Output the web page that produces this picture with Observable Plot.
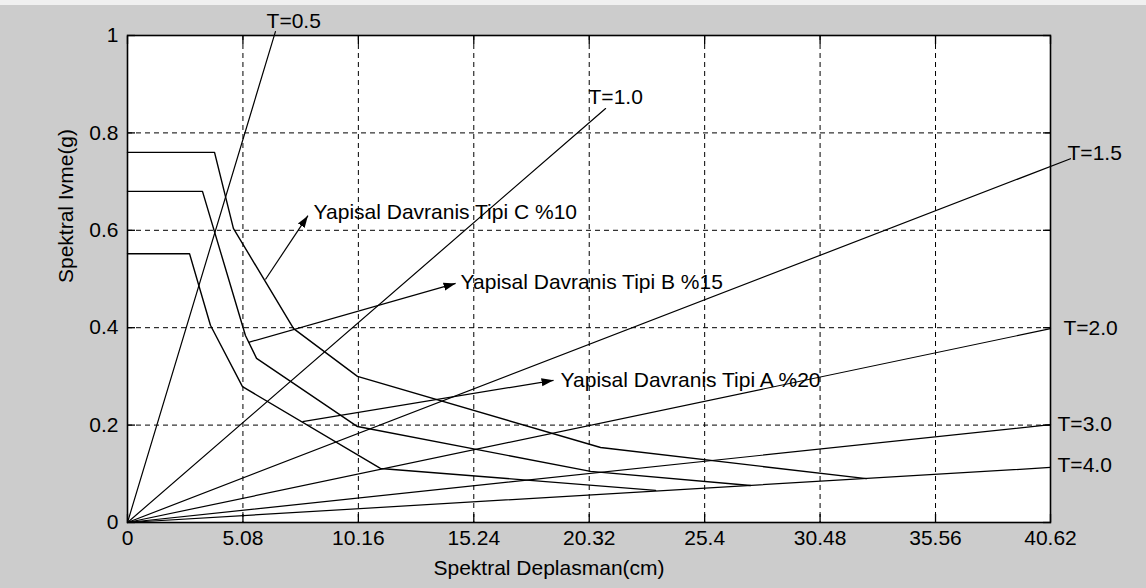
<!DOCTYPE html>
<html>
<head>
<meta charset="utf-8">
<script src="https://cdn.jsdelivr.net/npm/d3@7"></script>
<script src="https://cdn.jsdelivr.net/npm/@observablehq/plot@0.6"></script>
<style>
  html, body { margin: 0; padding: 0; background: #cccccc; width: 1146px; height: 588px; overflow: hidden; }
  #strip { height: 5px; background: #f0f0f0; }
  #chart svg { display: block; overflow: visible; }
</style>
</head>
<body>
<div id="strip"></div>
<div id="chart"></div>
<script>
// ---- Axis ticks ----
const xTickValues = [0, 5.08, 10.16, 15.24, 20.32, 25.4, 30.48, 35.56, 40.62];
const xTickLabels = ["0", "5.08", "10.16", "15.24", "20.32", "25.4", "30.48", "35.56", "40.62"];
const yTickValues = [0, 0.2, 0.4, 0.6, 0.8, 1];
const yTickLabels = ["0", "0.2", "0.4", "0.6", "0.8", "1"];
const xTitle = "Spektral Deplasman(cm)";
const yTitle = "Spektral Ivme(g)";

// ---- Period (T) radial lines: from origin to end point ----
const periods = ["T=0.5", "T=1.0", "T=1.5", "T=2.0", "T=3.0", "T=4.0"];
const periodEndSd = [6.51, 21.04, 41.50, 40.62, 40.62, 40.62];
const periodEndSa = [1.008, 0.850, 0.747, 0.398, 0.201, 0.113];
const periodLabelSd = [6.12, 20.29, 41.37, 41.19, 40.93, 40.93];
const periodLabelSa = [1.029, 0.873, 0.758, 0.398, 0.201, 0.117];

// ---- Demand spectra ----
const demandNames = ["Yapisal Davranis Tipi A %20", "Yapisal Davranis Tipi B %15", "Yapisal Davranis Tipi C %10"];
const demandA_Sd = [0, 2.73, 3.65, 5.06, 11.13, 23.24];
const demandA_Sa = [0.552, 0.552, 0.405, 0.279, 0.111, 0.066];
const demandB_Sd = [0, 3.30, 5.19, 5.68, 10.12, 20.38, 27.42];
const demandB_Sa = [0.680, 0.680, 0.384, 0.337, 0.197, 0.105, 0.076];
const demandC_Sd = [0, 3.83, 4.66, 7.31, 10.12, 20.82, 32.52];
const demandC_Sa = [0.760, 0.760, 0.604, 0.398, 0.300, 0.154, 0.090];

// ---- Annotation arrows (A, B, C) ----
const arrowFromSd = [7.70, 5.33, 6.07];
const arrowFromSa = [0.207, 0.370, 0.499];
const arrowToSd = [18.75, 14.44, 7.94];
const arrowToSa = [0.292, 0.491, 0.630];
const annotSd = [19.06, 14.66, 8.19];
const annotSa = [0.292, 0.493, 0.637];

// ---- Build tables ----
const tLines = periods.flatMap((p, i) => [
  {T: p, sd: 0, sa: 0},
  {T: p, sd: periodEndSd[i], sa: periodEndSa[i]}
]);
const tLabels = periods.map((p, i) => ({text: p, sd: periodLabelSd[i], sa: periodLabelSa[i]}));
const demandSd = [demandA_Sd, demandB_Sd, demandC_Sd];
const demandSa = [demandA_Sa, demandB_Sa, demandC_Sa];
const demand = demandNames.flatMap((n, k) => demandSd[k].map((sd, j) => ({type: n, sd, sa: demandSa[k][j]})));
const arrows = demandNames.map((n, i) => ({
  x1: arrowFromSd[i], y1: arrowFromSa[i], x2: arrowToSd[i], y2: arrowToSa[i],
  text: n, tx: annotSd[i], ty: annotSa[i]
}));

function filledArrow(color, context) {
  const doc = (context && context.document) || document;
  const ns = "http://www.w3.org/2000/svg";
  const m = doc.createElementNS(ns, "marker");
  m.setAttribute("viewBox", "-12 -5 12 10");
  m.setAttribute("markerWidth", "12");
  m.setAttribute("markerHeight", "10");
  m.setAttribute("markerUnits", "userSpaceOnUse");
  m.setAttribute("orient", "auto");
  m.setAttribute("refX", "0");
  m.setAttribute("refY", "0");
  const p = doc.createElementNS(ns, "path");
  p.setAttribute("d", "M-12,-4L0,0L-12,4Z");
  p.setAttribute("fill", color);
  p.setAttribute("stroke", "none");
  m.appendChild(p);
  return m;
}

const xFmt = d => xTickLabels[xTickValues.indexOf(d)];
const yFmt = d => yTickLabels[yTickValues.indexOf(d)];
const gridStyle = {stroke: "black", strokeOpacity: 1, strokeWidth: 1, strokeDasharray: "5,4"};

const chart = Plot.plot({
  width: 1146,
  height: 583,
  marginLeft: 127,
  marginRight: 96,
  marginTop: 30,
  marginBottom: 66,
  style: {
    background: "transparent",
    fontFamily: "'Liberation Sans', Arial, Helvetica, sans-serif",
    fontSize: "21px",
    color: "black",
    overflow: "visible"
  },
  x: {domain: [0, 40.62]},
  y: {domain: [0, 1]},
  marks: [
    Plot.frame({fill: "white", stroke: null}),
    Plot.gridX(xTickValues, gridStyle),
    Plot.gridY(yTickValues, gridStyle),
    Plot.axisX(xTickValues, {anchor: "bottom", tickSize: -8, fill: "none", strokeWidth: 1.3}),
    Plot.axisX(xTickValues, {anchor: "top", tickSize: -8, fill: "none", strokeWidth: 1.3}),
    Plot.axisY(yTickValues, {anchor: "left", tickSize: -8, fill: "none", strokeWidth: 1.3}),
    Plot.axisY(yTickValues, {anchor: "right", tickSize: -8, fill: "none", strokeWidth: 1.3}),
    Plot.axisX(xTickValues, {anchor: "bottom", tickSize: 0, tickPadding: 8, tickFormat: xFmt, label: null}),
    Plot.axisY(yTickValues, {anchor: "left", tickSize: 0, tickPadding: 9, tickFormat: yFmt, label: null}),
    Plot.frame({stroke: "black", strokeWidth: 1.6}),
    Plot.line(tLines, {x: "sd", y: "sa", z: "T", stroke: "black", strokeWidth: 1.2}),
    Plot.line(demand, {x: "sd", y: "sa", z: "type", stroke: "black", strokeWidth: 1.4}),
    Plot.link(arrows, {x1: "x1", y1: "y1", x2: "x2", y2: "y2", stroke: "black", strokeWidth: 1.2, markerEnd: filledArrow}),
    Plot.text(arrows, {x: "tx", y: "ty", text: "text", textAnchor: "start", fill: "black"}),
    Plot.text(tLabels, {x: "sd", y: "sa", text: "text", textAnchor: "start", fill: "black"}),
    Plot.text([xTitle], {frameAnchor: "bottom", dx: -40, dy: 52, text: d => d, fill: "black"}),
    Plot.text([yTitle], {frameAnchor: "left", dx: -61, dy: 4, rotate: -90, text: d => d, fill: "black"})
  ]
});
document.getElementById("chart").appendChild(chart);
</script>
</body>
</html>
